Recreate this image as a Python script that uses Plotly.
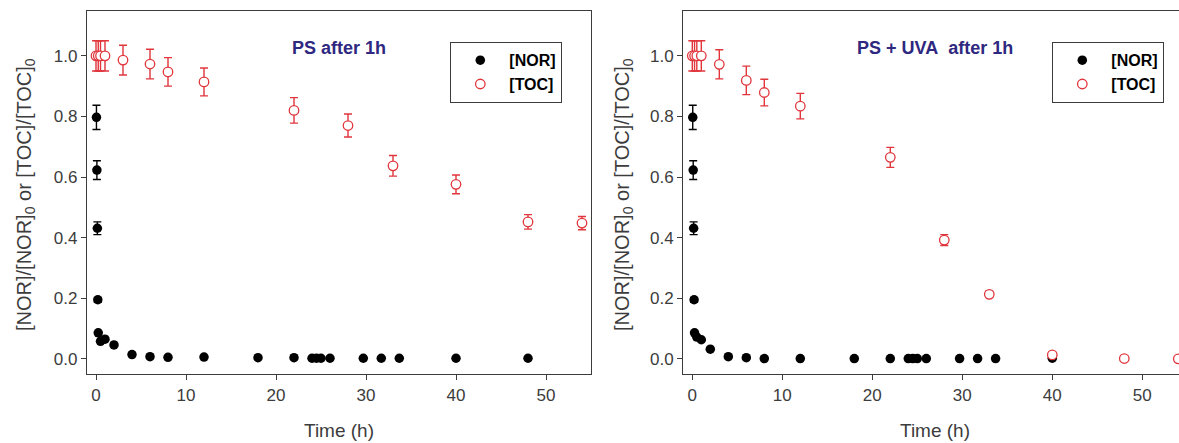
import plotly.graph_objects as go

# ---------------- data ----------------
# Left panel: PS after 1h
nor_t_left = [0.05, 0.1, 0.15, 0.2, 0.25, 0.5, 1, 2, 4, 6, 8, 12, 18, 22, 24, 24.5, 25, 26, 29.7, 31.7, 33.7, 40, 48]
nor_y_left = [0.797, 0.623, 0.431, 0.195, 0.086, 0.058, 0.065, 0.046, 0.014, 0.007, 0.005, 0.006, 0.004, 0.004,
              0.002, 0.002, 0.002, 0.002, 0.002, 0.002, 0.002, 0.002, 0.002]
nor_e_left = [0.040, 0.031, 0.021, 0.008, 0, 0, 0, 0, 0, 0, 0, 0, 0, 0, 0, 0, 0, 0, 0, 0, 0, 0, 0]

toc_t_left = [0, 0.25, 0.5, 1, 3, 6, 8, 12, 22, 28, 33, 40, 48, 54]
toc_y_left = [1.0, 1.0, 1.0, 1.0, 0.986, 0.973, 0.947, 0.914, 0.820, 0.770, 0.637, 0.576, 0.452, 0.448]
toc_e_left = [0.05, 0.05, 0.05, 0.05, 0.049, 0.049, 0.047, 0.046, 0.042, 0.038, 0.034, 0.031, 0.024, 0.022]

# Right panel: PS + UVA after 1h
nor_t_right = [0.05, 0.1, 0.15, 0.2, 0.25, 0.5, 1, 2, 4, 6, 8, 12, 18, 22, 24, 24.5, 25, 26, 29.7, 31.7, 33.7, 40]
nor_y_right = [0.797, 0.623, 0.431, 0.195, 0.086, 0.072, 0.063, 0.032, 0.007, 0.004, 0.001, 0.001, 0.001, 0.001,
               0.001, 0.001, 0.001, 0.001, 0.001, 0.001, 0.001, 0.002]
nor_e_right = [0.040, 0.031, 0.021, 0.008, 0, 0, 0, 0, 0, 0, 0, 0, 0, 0, 0, 0, 0, 0, 0, 0, 0, 0]

toc_t_right = [0, 0.25, 0.5, 1, 3, 6, 8, 12, 22, 28, 33, 40, 48, 54]
toc_y_right = [1.0, 1.0, 1.0, 1.0, 0.972, 0.919, 0.879, 0.834, 0.665, 0.392, 0.213, 0.013, 0.001, 0.0]
toc_e_right = [0.05, 0.05, 0.05, 0.05, 0.048, 0.047, 0.044, 0.042, 0.033, 0.018, 0.010, 0.004, 0, 0]

x_ticks = [0, 10, 20, 30, 40, 50]
y_ticks = [0.0, 0.2, 0.4, 0.6, 0.8, 1.0]

panel_titles = ["PS after 1h", "PS + UVA\u00a0 after 1h"]
y_title = "[NOR]/[NOR]<sub>0</sub> or [TOC]/[TOC]<sub>0</sub>"
x_title = "Time (h)"

# ---------------- style ----------------
OFF = 0                      # page body margin removed by post_script below
W, H = 1179 - OFF, 443 - OFF
FONT = "Liberation Sans, Arial, sans-serif"
GRAY = "#3c3c3c"
RED = "#e0363c"
NAVY = "#2e2880"


def px(x):
    return (x - OFF) / W


def py(y):
    return 1 - (y - OFF) / H


fig = go.Figure()


def add_panel(tn, yn, en, tt, yt, et, xa, ya, legend):
    fig.add_trace(go.Scatter(
        x=tn, y=yn, mode="markers", name="[NOR]", xaxis=xa, yaxis=ya, legend=legend,
        marker=dict(symbol="circle", size=9.5, color="black", line=dict(width=0)),
        error_y=dict(type="data", array=en, visible=True, color="black", thickness=1.4, width=4),
        cliponaxis=False,
    ))
    fig.add_trace(go.Scatter(
        x=tt, y=yt, mode="markers", name="[TOC]", xaxis=xa, yaxis=ya, legend=legend,
        marker=dict(symbol="circle", size=9.5, color="white", line=dict(width=1.3, color=RED)),
        error_y=dict(type="data", array=et, visible=True, color=RED, thickness=1.4, width=4),
        cliponaxis=False,
    ))


add_panel(nor_t_left, nor_y_left, nor_e_left, toc_t_left, toc_y_left, toc_e_left, "x", "y", "legend")
add_panel(nor_t_right, nor_y_right, nor_e_right, toc_t_right, toc_y_right, toc_e_right, "x2", "y2", "legend2")

ydom = [py(374), py(11)]
axis_common = dict(
    showgrid=False, zeroline=False, showline=True, linecolor=GRAY, linewidth=1.3,
    ticks="outside", ticklen=5, tickwidth=1.2, tickcolor=GRAY,
    tickfont=dict(family=FONT, size=17, color=GRAY),
)

legend_common = dict(y=py(42), xanchor="left", yanchor="top", bgcolor="white",
                     bordercolor=GRAY, borderwidth=1.3, itemwidth=48,
                     font=dict(family=FONT, size=16, color="black", weight="bold"))

fig.update_layout(
    width=W, height=H,
    margin=dict(l=0, r=0, t=0, b=0),
    paper_bgcolor="white", plot_bgcolor="white",
    font=dict(family=FONT, color=GRAY),
    xaxis=dict(domain=[px(87), px(591)], range=[-1, 55], tickvals=x_ticks, mirror=True, anchor="y", **axis_common),
    yaxis=dict(domain=ydom, range=[-0.05, 1.148], tickvals=y_ticks, tickformat=".1f", mirror=True, anchor="x", **axis_common),
    xaxis2=dict(domain=[px(683.3), 1.0], range=[-1, 54.08], tickvals=x_ticks, mirror=True, anchor="y2", **axis_common),
    yaxis2=dict(domain=ydom, range=[-0.05, 1.148], tickvals=y_ticks, tickformat=".1f", mirror=False, anchor="x2", **axis_common),
    legend=dict(x=px(450), **legend_common),
    legend2=dict(x=px(1052), **legend_common),
)

annotations = []
for cx, txt in [(339, panel_titles[0]), (935, panel_titles[1])]:
    annotations.append(dict(x=px(cx), y=py(48), xref="paper", yref="paper", text=f"<b>{txt}</b>",
                            showarrow=False, xanchor="center", yanchor="middle",
                            font=dict(family=FONT, size=18, color=NAVY)))
for cx in [25, 623]:
    annotations.append(dict(x=px(cx), y=py(195), xref="paper", yref="paper", text=y_title,
                            showarrow=False, textangle=-90, xanchor="center", yanchor="middle",
                            font=dict(family=FONT, size=20, color=GRAY)))
for cx in [339, 935]:
    annotations.append(dict(x=px(cx), y=py(430), xref="paper", yref="paper", text=x_title,
                            showarrow=False, xanchor="center", yanchor="middle",
                            font=dict(family=FONT, size=19, color=GRAY)))
fig.update_layout(annotations=annotations)

fig.write_html(
    "out.html",
    config={"displayModeBar": False},
    post_script="document.body.style.margin='0';document.body.style.overflow='hidden';"
                "document.documentElement.style.overflow='hidden';",
)
